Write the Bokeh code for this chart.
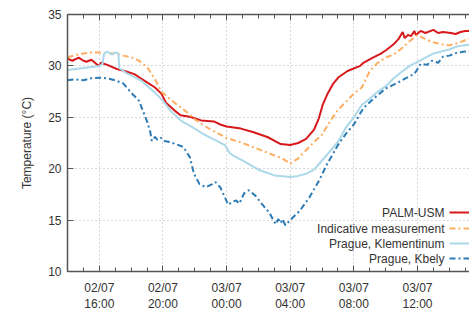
from bokeh.plotting import figure
from bokeh.models import (FixedTicker, LinearAxis, Range1d, Label, Arrow)
from bokeh.embed import file_html
from bokeh.resources import INLINE

# time in hours since 02/07 14:00 UTC
palm_t = [0, 0.3, 0.7, 1.0, 1.2, 1.5, 1.8, 2.0, 2.1, 2.5, 3.1, 3.6, 4.2, 4.6, 5.0, 5.5, 5.9,
          6.2, 6.7, 7.1, 7.5, 7.8, 8.4, 9.2, 9.6, 10.0, 10.9, 11.7, 12.6, 13.4, 14.0, 14.5,
          15.0, 15.5, 15.8, 16.04, 16.35, 16.67, 17.04, 17.6, 18.4, 18.6, 19.2, 19.7, 20.0,
          20.5, 20.8, 21.07, 21.2, 21.4, 21.6, 21.8, 21.9, 22.2, 22.5, 23.0, 23.3, 23.6,
          24.1, 24.4, 24.7, 25.0, 25.5]
palm_v = [30.7, 30.5, 30.8, 30.5, 30.4, 30.6, 30.2, 30.0, 30.3, 30.1, 29.7, 29.5, 29.2, 28.8,
          28.4, 27.9, 27.3, 26.4, 25.7, 25.2, 25.1, 25.0, 24.7, 24.6, 24.3, 24.1, 23.9, 23.55,
          23.06, 22.4, 22.3, 22.5, 22.9, 23.8, 24.9, 26.2, 27.3, 28.2, 28.9, 29.5, 30.0, 30.3,
          30.8, 31.2, 31.5, 32.1, 32.6, 33.3, 32.7, 33.0, 32.9, 33.4, 33.0, 33.4, 33.2, 33.5,
          33.2, 33.3, 33.2, 33.1, 33.3, 33.4, 33.4]

ind_t = [0, 0.5, 1.0, 1.5, 2.0, 2.5, 3.0, 3.5, 4.0, 4.5, 5.0, 5.5, 5.9, 6.5, 7.0, 7.5, 8.0,
         9.0, 10.0, 11.0, 12.0, 13.0, 13.5, 14.0, 14.5, 15.0, 15.5, 16.0, 16.5, 17.0, 17.5,
         18.0, 18.5, 19.0, 19.5, 20.0, 20.5, 21.0, 21.5, 22.0, 22.5, 23.0, 23.5, 24.0, 24.5,
         25.0, 25.5]
ind_v = [30.85, 31.05, 31.2, 31.3, 31.3, 31.25, 31.2, 31.0, 30.85, 30.5, 29.9, 28.7, 27.5,
         26.7, 26.1, 25.5, 24.8, 23.8, 23.0, 22.5, 21.9, 21.3, 21.0, 20.5, 21.0, 21.8, 22.6,
         23.3, 24.6, 25.7, 26.5, 27.3, 27.9, 29.5, 30.3, 30.8, 31.1, 31.7, 32.4, 33.0, 32.6,
         32.3, 32.1, 32.0, 32.2, 32.5, 32.7]

klem_t = [0, 0.5, 1.0, 1.5, 2.0, 2.2, 2.3, 2.5, 2.8, 3.0, 3.2, 3.25, 3.7, 4.6, 5.5, 6.0, 6.5,
          7.2, 7.9, 8.5, 9.0, 9.5, 9.9, 10.2, 10.5, 11.0, 12.0, 13.0, 14.0, 14.5, 15.0, 15.5,
          16.0, 16.5, 17.0, 17.5, 18.0, 18.5, 19.0, 19.5, 20.0, 20.5, 21.0, 21.5, 22.0, 22.5,
          23.0, 23.5, 24.0, 24.5, 25.0, 25.5]
klem_v = [29.6, 29.7, 29.8, 29.9, 30.0, 30.2, 31.2, 31.4, 31.1, 31.3, 31.2, 29.8, 29.3, 28.6,
          27.4, 26.6, 25.6, 24.6, 24.0, 23.4, 23.0, 22.6, 22.3, 21.5, 21.2, 20.8, 19.9, 19.35,
          19.2, 19.3, 19.5, 19.9, 20.8, 21.7, 22.6, 24.0, 25.0, 26.2, 26.8, 27.5, 28.0, 28.8,
          29.4, 30.0, 30.4, 30.8, 31.2, 31.4, 31.6, 31.9, 32.0, 32.1]

kbely_t = [0, 0.5, 1.0, 1.5, 2.0, 2.5, 3.0, 3.5, 4.0, 4.5, 4.7, 5.0, 5.2, 5.3, 5.5, 5.65, 5.9,
           6.1, 6.4, 6.8, 7.3, 7.7, 7.95, 8.3, 8.7, 9.1, 9.3, 9.6, 9.9, 10.1, 10.4, 10.6, 10.8,
           11.1, 11.4, 11.8, 12.2, 12.7, 12.9, 13.1, 13.25, 13.4, 13.5, 13.7, 14.0, 14.6, 15.2,
           15.8, 16.3, 17.0, 17.5, 18.0, 18.6, 19.3, 20.0, 20.8, 21.5, 21.8, 22.2, 22.6, 22.9,
           23.3, 23.6, 24.0, 24.5, 25.0, 25.5]
kbely_v = [28.6, 28.7, 28.6, 28.8, 28.85, 28.8, 28.6, 28.3, 27.4, 26.6, 25.8, 24.6, 23.6, 22.7,
           23.1, 22.8, 23.0, 22.7, 22.6, 22.4, 22.1, 21.1, 19.5, 18.5, 18.2, 18.5, 18.7, 18.2,
           17.2, 16.5, 16.8, 16.9, 16.6, 17.6, 17.9, 17.4, 16.6, 15.7, 15.1, 14.6, 15.1, 14.7,
           15.1, 14.5, 15.0, 15.9, 17.2, 18.8, 20.4, 22.3, 23.4, 24.3, 25.9, 26.9, 27.8, 28.4,
           29.0, 29.2, 30.2, 30.1, 30.5, 30.3, 30.9, 31.0, 31.3, 31.4, 31.5]

major_ticks = [2, 6, 10, 14, 18, 22]
tick_labels = ["02/07\n16:00", "02/07\n20:00", "03/07\n00:00", "03/07\n04:00",
               "03/07\n08:00", "03/07\n12:00"]
y_ticks = [10, 15, 20, 25, 30, 35]

series = [
    ("PALM-USM", palm_t, palm_v, "#d7191c", "solid"),
    ("Indicative measurement", ind_t, ind_v, "#fdae61", "6 3 2 3"),
    ("Prague, Klementinum", klem_t, klem_v, "#abd9e9", "solid"),
    ("Prague, Kbely", kbely_t, kbely_v, "#2c7bb6", "6 3 2 3"),
]

W, H = 469, 320
p = figure(width=W, height=H, output_backend="svg", toolbar_location=None,
           x_range=Range1d(0, 25.27), y_range=Range1d(10, 35),
           min_border_left=67, min_border_right=0, min_border_top=14, min_border_bottom=49)
p.outline_line_color = None
p.background_fill_color = "white"

font = "Liberation Sans"
axcol = "#555555"
txtcol = "#333333"

xt = FixedTicker(ticks=major_ticks, minor_ticks=list(range(0, 26)))
p.xaxis.ticker = xt
p.xaxis.major_label_overrides = {t: l for t, l in zip(major_ticks, tick_labels)}
p.yaxis.ticker = FixedTicker(ticks=y_ticks)

for ax in [p.xaxis[0], p.yaxis[0]]:
    ax.major_tick_in = 6
    ax.major_tick_out = 0
    ax.minor_tick_in = 4
    ax.minor_tick_out = 0
    ax.axis_line_color = axcol
    ax.axis_line_width = 1.5
    ax.major_tick_line_color = axcol
    ax.minor_tick_line_color = axcol
    ax.major_label_text_font = font
    ax.major_label_text_font_size = "12px"
    ax.major_label_text_color = txtcol
p.yaxis.minor_tick_in = 0
p.xaxis.major_label_standoff = 9
p.yaxis.major_label_standoff = 6
p.yaxis.axis_label = "Temperature (°C)"
p.yaxis.axis_label_text_font = font
p.yaxis.axis_label_text_font_size = "12px"
p.yaxis.axis_label_text_font_style = "normal"
p.yaxis.axis_label_text_color = txtcol
p.yaxis.axis_label_standoff = 11

top = LinearAxis(ticker=xt, major_label_overrides={t: "" for t in major_ticks},
                 major_label_standoff=0,
                 major_tick_in=6, major_tick_out=0, minor_tick_in=4, minor_tick_out=0,
                 axis_line_color=axcol, axis_line_width=1.5,
                 major_tick_line_color=axcol, minor_tick_line_color=axcol)
p.add_layout(top, "above")

for g in [p.xgrid[0], p.ygrid[0]]:
    g.grid_line_color = "#b0b0b0"
    g.grid_line_dash = "1 3"
    g.grid_line_width = 1

for name, t, v, c, d in series:
    p.line(t, v, line_color=c, line_width=2, line_dash=d)

# legend (text right-aligned, sample lines to the right); canvas units, y from top
ys = [212, 228, 243, 258]
for (name, t, v, c, d), yy in zip(series, ys):
    p.add_layout(Label(x=444, y=yy, x_units="canvas", y_units="canvas", text=name,
                       text_align="right", text_baseline="middle", text_font=font,
                       text_font_size="12px", text_color=txtcol))
    p.add_layout(Arrow(end=None, x_start=449, y_start=yy, x_end=475, y_end=yy,
                       start_units="canvas", end_units="canvas", line_color=c,
                       line_width=2, line_dash=d))

open("out.html", "w").write(file_html(p, INLINE))
